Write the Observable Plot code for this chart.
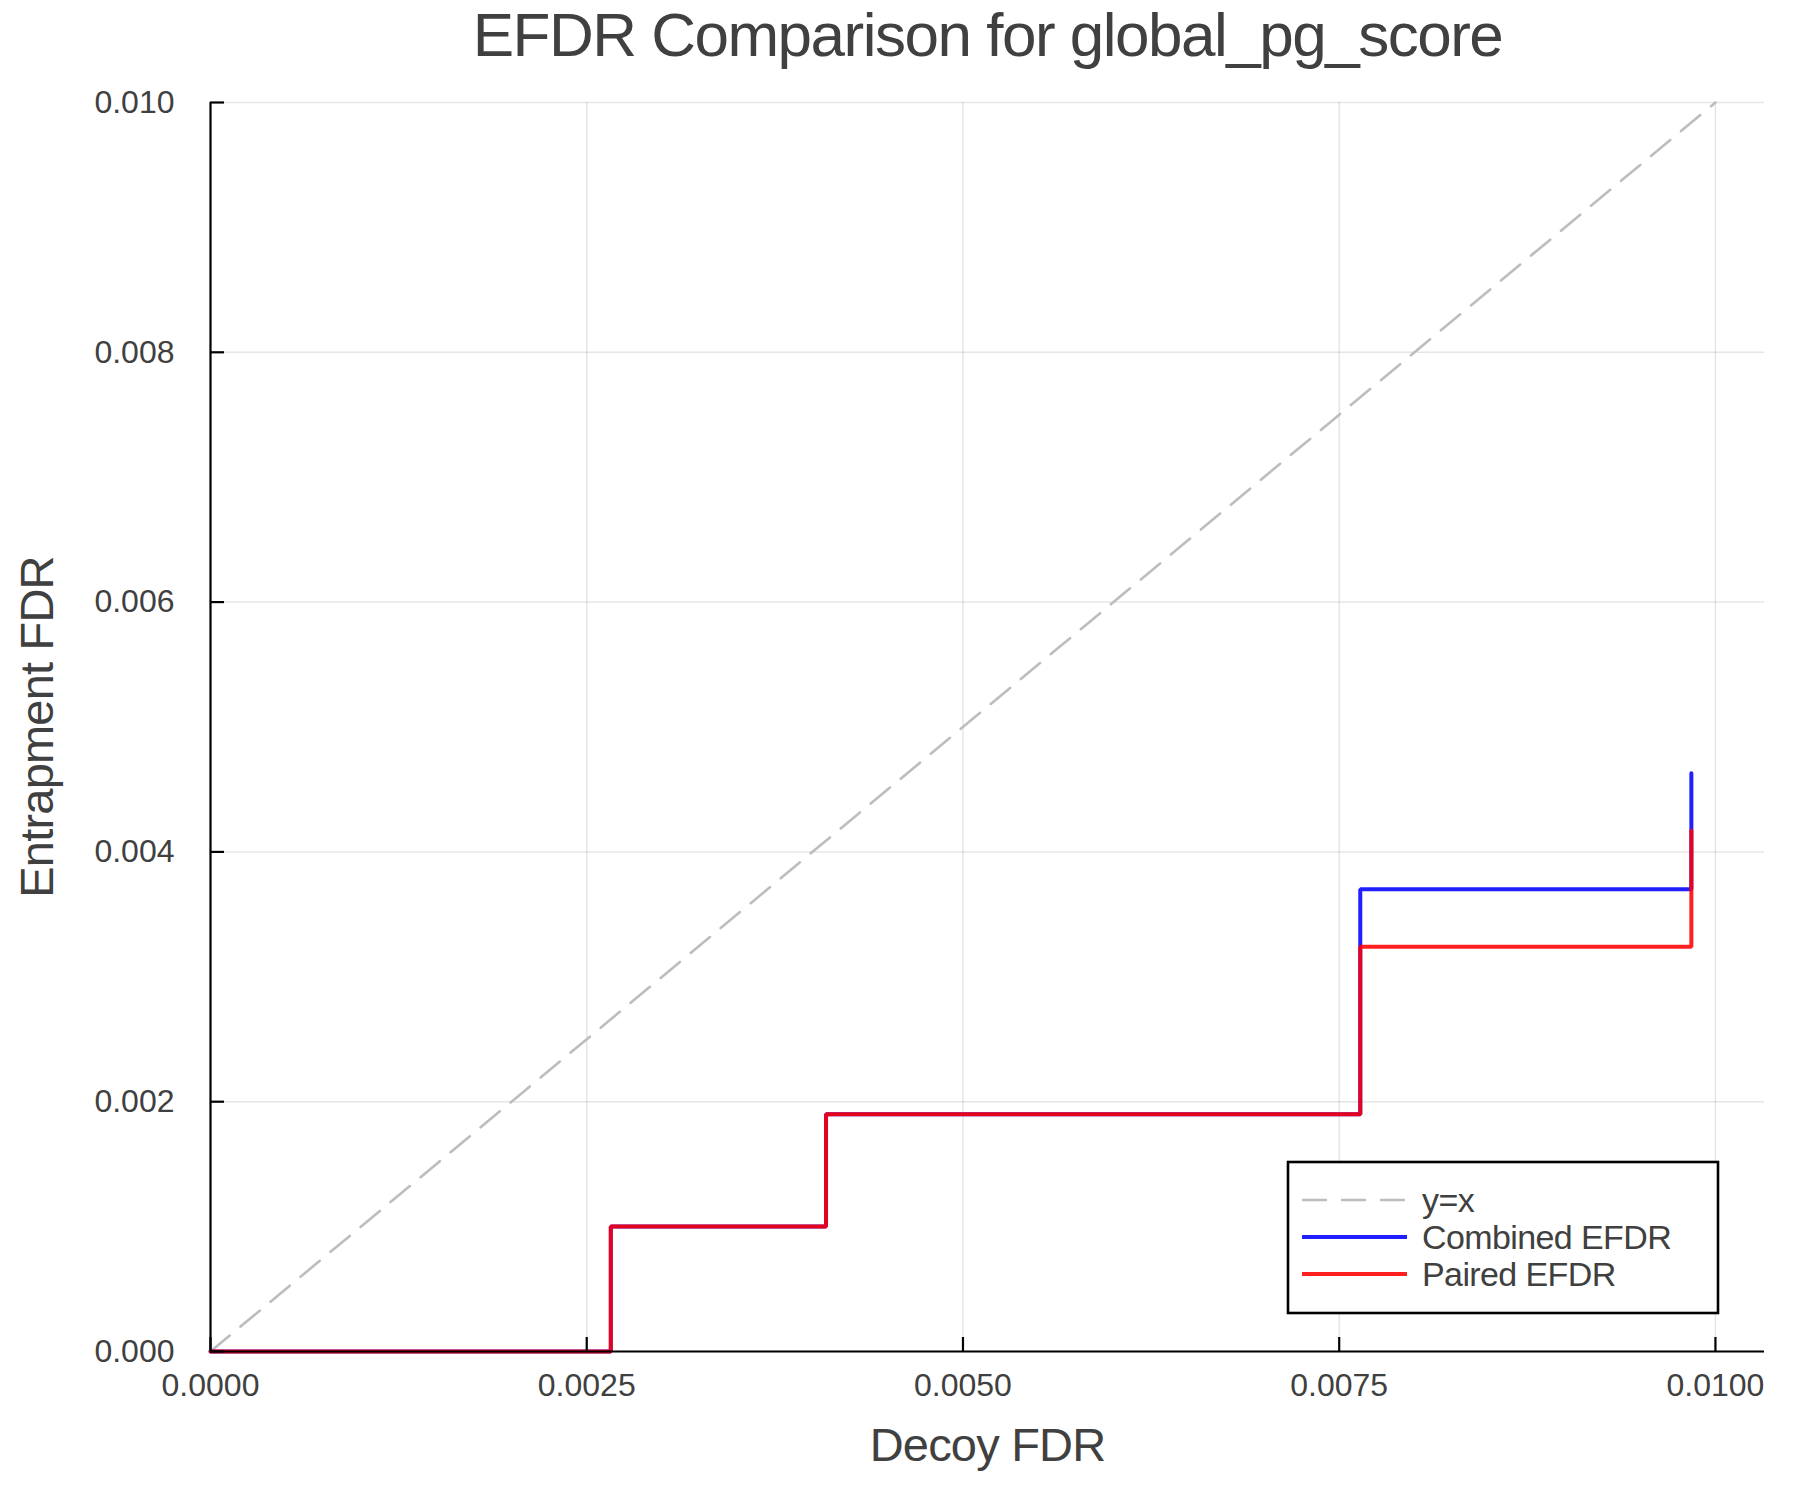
<!DOCTYPE html>
<html>
<head>
<meta charset="utf-8">
<script src="https://cdn.jsdelivr.net/npm/d3@7"></script>
<script src="https://cdn.jsdelivr.net/npm/@observablehq/plot@0.6"></script>
<style>
  html, body { margin: 0; padding: 0; background: #fff; }
  #wrap { position: relative; width: 1800px; height: 1500px; }
  #legend { position: absolute; left: 0; top: 0; }
</style>
</head>
<body>
<div id="wrap"><div id="chart"></div><svg id="legend" width="1800" height="1500"></svg></div>
<script>
// ---- data ----
const titleText = "EFDR Comparison for global_pg_score";
const xLabel = "Decoy FDR";
const yLabel = "Entrapment FDR";

const decoyFDR     = [0, 0.00266, 0.00409, 0.00764, 0.00984];
const combinedEFDR = [0, 0.00100, 0.00190, 0.00370, 0.00463];
const pairedEFDR   = [0, 0.00100, 0.00190, 0.00324, 0.00417];

const diagX = [0, 0.01];
const diagY = [0, 0.01];

const xTicks = [0, 0.0025, 0.005, 0.0075, 0.01];
const yTicks = [0, 0.002, 0.004, 0.006, 0.008, 0.01];

const seriesNames = ["y=x", "Combined EFDR", "Paired EFDR"];
const seriesColors = ["#bdbdbd", "#0000ff", "#ff0000"];

// ---- tables ----
const combined = decoyFDR.map((x, i) => ({x, y: combinedEFDR[i]}));
const paired = decoyFDR.map((x, i) => ({x, y: pairedEFDR[i]}));
const diag = diagX.map((x, i) => ({x, y: diagY[i]}));

const textColor = "#404040";
const font = "'Liberation Sans', Arial, Helvetica, sans-serif";

const chart = Plot.plot({
  width: 1800,
  height: 1500,
  marginLeft: 210,
  marginRight: 36,
  marginTop: 102,
  marginBottom: 149,
  style: {fontFamily: font, background: "#fff", color: textColor},
  x: {domain: [0, 0.010326]},
  y: {domain: [0, 0.01]},
  marks: [
    Plot.gridX(xTicks, {stroke: "#000", strokeOpacity: 0.1, strokeWidth: 1.5}),
    Plot.gridY(yTicks, {stroke: "#000", strokeOpacity: 0.1, strokeWidth: 1.5}),
    Plot.line(diag, {x: "x", y: "y", stroke: seriesColors[0], strokeWidth: 2.6, strokeDasharray: "25,14"}),
    Plot.line(combined, {x: "x", y: "y", curve: "step-after", stroke: seriesColors[1], strokeOpacity: 0.88, strokeWidth: 4, strokeLinejoin: "miter"}),
    Plot.line(paired, {x: "x", y: "y", curve: "step-after", stroke: seriesColors[2], strokeOpacity: 0.88, strokeWidth: 4, strokeLinejoin: "miter"}),
    Plot.ruleY([0], {stroke: "#000", strokeWidth: 2.2}),
    Plot.ruleX([0], {stroke: "#000", strokeWidth: 2.2}),
    // inward ticks
    Plot.axisX(xTicks, {tickSize: 14, dy: -14, stroke: "#000", strokeWidth: 2.2, fill: "none", label: null}),
    Plot.axisY(yTicks, {tickSize: 14, dx: 14, stroke: "#000", strokeWidth: 2.2, fill: "none", label: null}),
    // tick labels
    Plot.axisX(xTicks, {tickSize: 0, tickPadding: 22, tickFormat: d3.format(".4f"), fontSize: 32, fill: textColor, label: null}),
    Plot.axisY(yTicks, {tickSize: 0, tickPadding: 36, tickFormat: d3.format(".3f"), fontSize: 32, fill: textColor, label: null}),
    // titles
    Plot.text([titleText], {text: d => d, frameAnchor: "top", dy: -66, lineAnchor: "middle", fontSize: 62, fill: textColor}),
    Plot.text([xLabel], {text: d => d, frameAnchor: "bottom", dy: 94, lineAnchor: "middle", fontSize: 47, fill: textColor}),
    Plot.text([yLabel], {text: d => d, frameAnchor: "left", textAnchor: "middle", dx: -173, rotate: -90, lineAnchor: "middle", fontSize: 47, fill: textColor})
  ]
});
document.getElementById("chart").appendChild(chart);
// narrower letter spacing to mimic the reference's Helvetica-like face
d3.select(chart).selectAll("text")
  .filter(function() { return this.textContent === titleText; })
  .style("letter-spacing", "-1.5px");
d3.select(chart).selectAll("text")
  .filter(function() { return this.textContent === yLabel || this.textContent === xLabel; })
  .style("letter-spacing", "-0.8px");

// ---- legend (overlay) ----
const lg = d3.select("#legend");
const box = {left: 1288, top: 1162, width: 430, height: 151};
lg.append("rect")
  .attr("x", box.left).attr("y", box.top)
  .attr("width", box.width).attr("height", box.height)
  .attr("fill", "#fff").attr("stroke", "#000").attr("stroke-width", 2.6);
const rowY = [1200, 1237, 1274];
seriesNames.forEach((name, i) => {
  lg.append("line")
    .attr("x1", 1302).attr("x2", 1407)
    .attr("y1", rowY[i]).attr("y2", rowY[i])
    .attr("stroke", seriesColors[i])
    .attr("stroke-opacity", i === 0 ? 1 : 0.88)
    .attr("stroke-width", i === 0 ? 2.6 : 4)
    .attr("stroke-dasharray", i === 0 ? "25,14" : null);
  lg.append("text")
    .attr("x", 1422).attr("y", rowY[i])
    .attr("dy", "0.35em")
    .attr("font-family", font)
    .attr("font-size", 34)
    .attr("letter-spacing", "-0.6px")
    .attr("fill", textColor)
    .text(name);
});
</script>
</body>
</html>
